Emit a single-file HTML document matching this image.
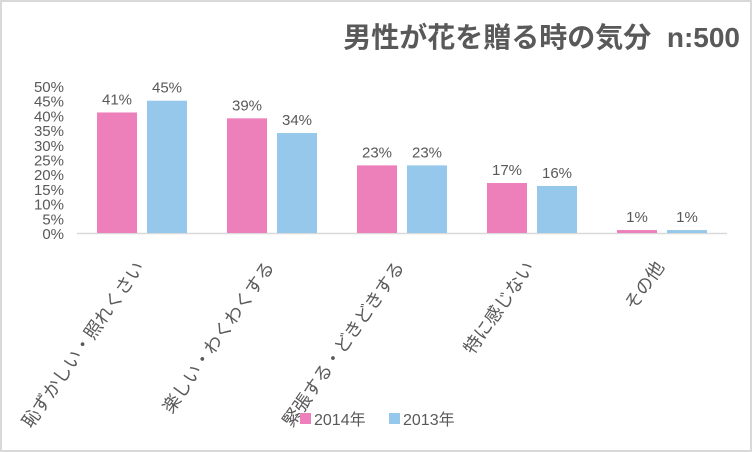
<!DOCTYPE html>
<html><head><meta charset="utf-8"><style>
body{margin:0;background:#fff}
#c{width:752px;height:452px;position:relative;box-sizing:border-box;border:2px solid #d9d9d9;background:#fff;font-family:"Liberation Sans","Noto Sans CJK JP",sans-serif}
</style></head><body>
<div id="c">
<svg id="s" width="748" height="448" viewBox="2 2 748 448" style="position:absolute;left:0;top:0">
<text x="740" y="47" text-anchor="end" font-size="28" font-weight="bold" fill="#595959" font-family="Liberation Sans,Noto Sans CJK JP,sans-serif" xml:space="preserve">男性が花を贈る時の気分  n:500</text>
<g id="axes"></g><g id="bars"></g><g id="labels"></g>
<g>
<rect x="300" y="413" width="11" height="11" fill="#ed7fba"/>
<text x="314" y="425" font-size="16" fill="#595959">2014年</text>
<rect x="389" y="413" width="11" height="11" fill="#95c8ea"/>
<text x="403" y="425" font-size="16" fill="#595959">2013年</text>
</g>
</svg>
</div>
<script>
const categories=["恥ずかしい・照れくさい","楽しい・わくわくする","緊張する・どきどきする","特に感じない","その他"];
const series2014=[41,39,23,17,1];
const series2013=[45,34,23,16,1];
const yTicks=[0,5,10,15,20,25,30,35,40,45,50];
const NS="http://www.w3.org/2000/svg";
const x0=77,x1=727,y0=233,yTop=86,maxV=50;
const band=(x1-x0)/categories.length;
const y=v=>y0-(v/maxV)*(y0-yTop);
function mk(t,a,p){const e=document.createElementNS(NS,t);for(const k in a)e.setAttribute(k,a[k]);p.appendChild(e);return e;}
const ax=document.getElementById('axes'),bg=document.getElementById('bars'),lg=document.getElementById('labels');
yTicks.forEach(v=>{const t=mk('text',{x:64,y:y(v)+6,'text-anchor':'end','font-size':15,fill:'#595959'},ax);t.textContent=v+'%';

});
const base=mk('line',{x1:x0,x2:x1,y1:y0+0.5,y2:y0+0.5,stroke:'#d9d9d9','stroke-width':1.5},ax);


const bw=40;
categories.forEach((c,i)=>{const cx=x0+band*(i+0.5);
[[series2014,'#ed7fba',cx-45,'2014'],[series2013,'#95c8ea',cx+5,'2013']].forEach(([s,col,bx,yr])=>{
const v=s[i];const r=mk('rect',{x:bx,y:y(v),width:bw,height:y0-y(v),fill:col},bg);


const t=mk('text',{x:bx+bw/2,y:y(v)-8,'text-anchor':'middle','font-size':15,fill:'#595959'},lg);t.textContent=v+'%';

});
const l=mk('text',{x:0,y:0,'text-anchor':'end','font-size':18,fill:'#595959',transform:`translate(${cx+3},${y0+34}) rotate(-55)`},lg);
l.textContent=c;


});
</script>
</body></html>
